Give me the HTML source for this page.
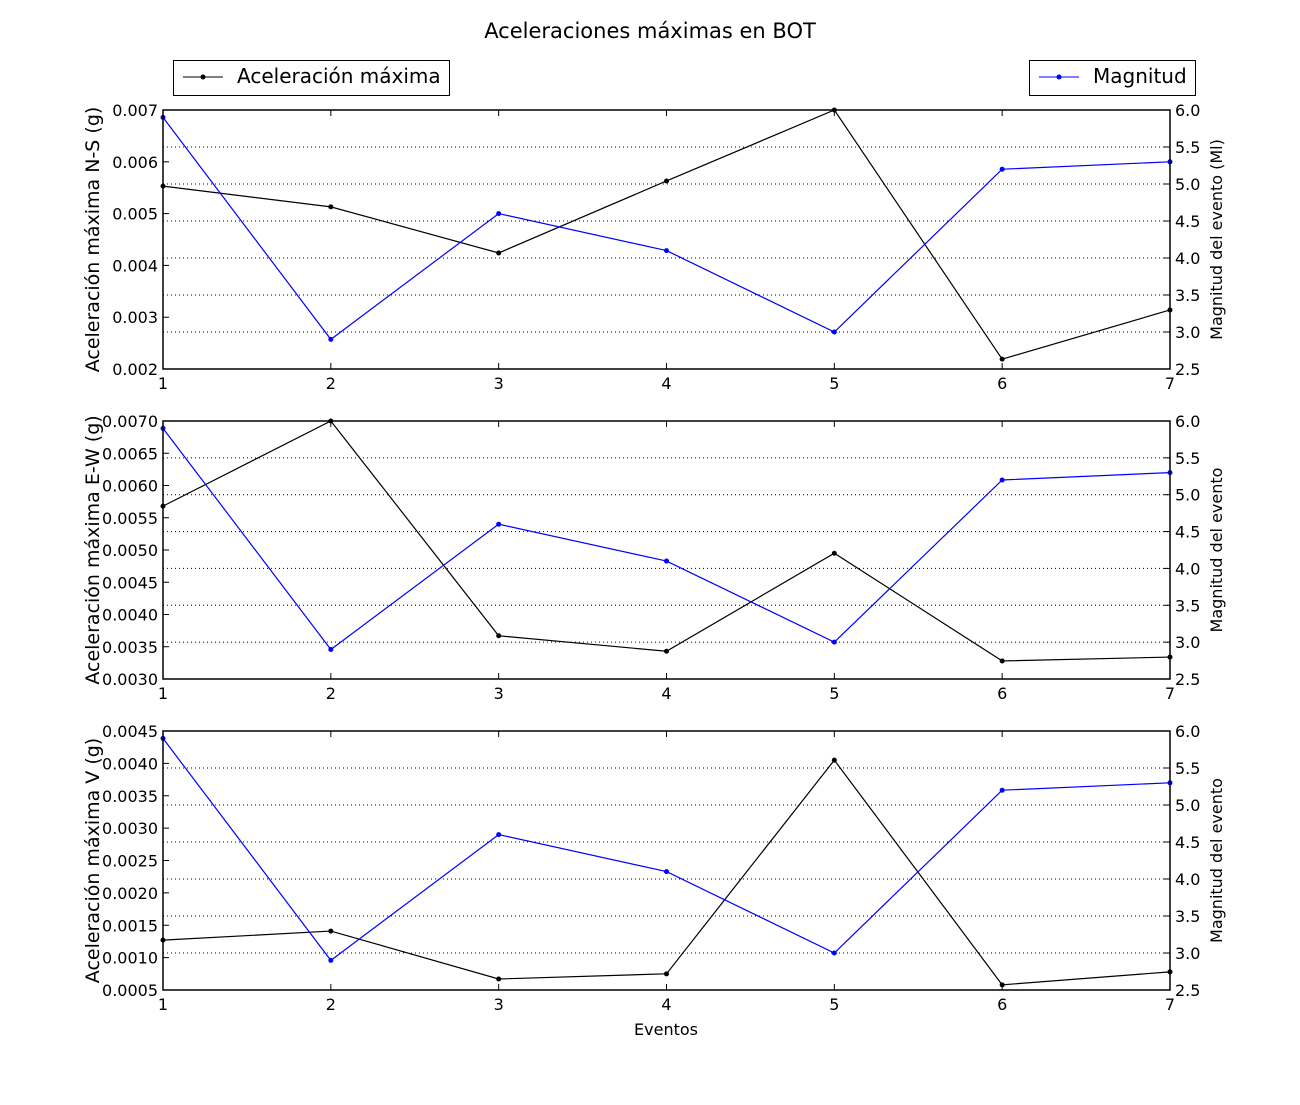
<!DOCTYPE html>
<html><head><meta charset="utf-8"><style>
body{margin:0;background:#fff;}
svg text{font-family:"DejaVu Sans","Liberation Sans",sans-serif;}
</style></head><body>
<svg id="c" width="1300" height="1100" xmlns="http://www.w3.org/2000/svg">
<text x="650" y="38" text-anchor="middle" font-size="21">Aceleraciones máximas en BOT</text>
<g>
<rect x="173.5" y="60.5" width="276" height="35" fill="#fff" stroke="#000"/>
<line x1="183" y1="77" x2="223" y2="77" stroke="#000"/><circle cx="203" cy="77" r="2.5"/>
<text x="237" y="83" font-size="20">Aceleración máxima</text></g>
<g>
<rect x="1029.5" y="60.5" width="166" height="35" fill="#fff" stroke="#000"/>
<line x1="1039" y1="77" x2="1079" y2="77" stroke="#00f"/><circle cx="1059" cy="77" r="2.5" fill="#00f"/>
<text x="1093" y="83" font-size="20">Magnitud</text></g>
<text x="666" y="1035" text-anchor="middle" font-size="16">Eventos</text>
</svg>
<script>
const events=[1,2,3,4,5,6,7];
const magnitude=[5.9,2.9,4.6,4.1,3.0,5.2,5.3];
const accNS=[0.00553,0.00513,0.00424,0.00563,0.0070,0.00219,0.00314];
const accEW=[0.00568,0.0070,0.00367,0.00343,0.00495,0.00328,0.00334];
const accV=[0.00127,0.00141,0.00067,0.00075,0.00405,0.00058,0.00078];
const ticksNS=["0.002","0.003","0.004","0.005","0.006","0.007"];
const ticksEW=["0.0030","0.0035","0.0040","0.0045","0.0050","0.0055","0.0060","0.0065","0.0070"];
const ticksV=["0.0005","0.0010","0.0015","0.0020","0.0025","0.0030","0.0035","0.0040","0.0045"];
const ticksMag=["2.5","3.0","3.5","4.0","4.5","5.0","5.5","6.0"];
const svg=document.getElementById('c');const NS='http://www.w3.org/2000/svg';
function mk(t,a,p){const e=document.createElementNS(NS,t);for(const k in a)e.setAttribute(k,a[k]);(p||svg).appendChild(e);return e;}
const X0=163,X1=1170;
const panels=[
 {top:110,bot:369,acc:accNS,ticks:ticksNS,lab:"Aceleración máxima N-S (g)",rlab:"Magnitud del evento (Ml)",name:"ns"},
 {top:421,bot:679,acc:accEW,ticks:ticksEW,lab:"Aceleración máxima E-W (g)",rlab:"Magnitud del evento",name:"ew"},
 {top:731,bot:990,acc:accV,ticks:ticksV,lab:"Aceleración máxima V (g)",rlab:"Magnitud del evento",name:"v"}];
panels.forEach(p=>{
 const g=mk('g',{});
 
 
 const lo=+p.ticks[0],hi=+p.ticks[p.ticks.length-1];
 const xs=v=>X0+(v-1)/6*(X1-X0);
 const ys=v=>p.bot-(v-lo)/(hi-lo)*(p.bot-p.top);
 const yr=v=>p.bot-(v-2.5)/3.5*(p.bot-p.top);
 ticksMag.forEach((t,i)=>{const y=yr(+t);
  if(i>0&&i<ticksMag.length-1)mk('line',{x1:X0,x2:X1,y1:y,y2:y,stroke:'#000','stroke-dasharray':'1,3','stroke-width':1},g);
  mk('line',{x1:X1,x2:X1-6,y1:y,y2:y,stroke:'#000'},g);
  const tx=mk('text',{x:X1+5,y:y+6,'font-size':16},g);tx.textContent=t;});
 p.ticks.forEach(t=>{const y=ys(+t);
  mk('line',{x1:X0,x2:X0+6,y1:y,y2:y,stroke:'#000'},g);
  const tx=mk('text',{x:X0-5,y:y+6,'font-size':16,'text-anchor':'end'},g);tx.textContent=t;});
 events.forEach(e=>{const x=xs(e);
  mk('line',{x1:x,x2:x,y1:p.bot,y2:p.bot-6,stroke:'#000'},g);
  mk('line',{x1:x,x2:x,y1:p.top,y2:p.top+6,stroke:'#000'},g);
  const tx=mk('text',{x:x,y:p.bot+20,'font-size':16,'text-anchor':'middle'},g);tx.textContent=e;});
 const la=mk('polyline',{points:events.map((e,i)=>xs(e)+','+ys(p.acc[i])).join(' '),fill:'none',stroke:'#000','stroke-width':1.2},g);
 
 
 events.forEach((e,i)=>mk('circle',{cx:xs(e),cy:ys(p.acc[i]),r:2.5,fill:'#000'},g));
 const lm=mk('polyline',{points:events.map((e,i)=>xs(e)+','+yr(magnitude[i])).join(' '),fill:'none',stroke:'#00f','stroke-width':1.2},g);
 
 
 events.forEach((e,i)=>mk('circle',{cx:xs(e),cy:yr(magnitude[i]),r:2.5,fill:'#00f'},g));
 mk('rect',{x:X0,y:p.top,width:X1-X0,height:p.bot-p.top,fill:'none',stroke:'#000','stroke-width':1.5},g);
 const cy=(p.top+p.bot)/2;
 const l=mk('text',{x:0,y:0,'font-size':19,'text-anchor':'middle',transform:`translate(99,${cy}) rotate(-90)`},g);l.textContent=p.lab;
 
 
 const r=mk('text',{x:0,y:0,'font-size':16,'text-anchor':'middle',transform:`translate(1222,${cy}) rotate(-90)`},g);r.textContent=p.rlab;
 
 
});
</script>
</body></html>
